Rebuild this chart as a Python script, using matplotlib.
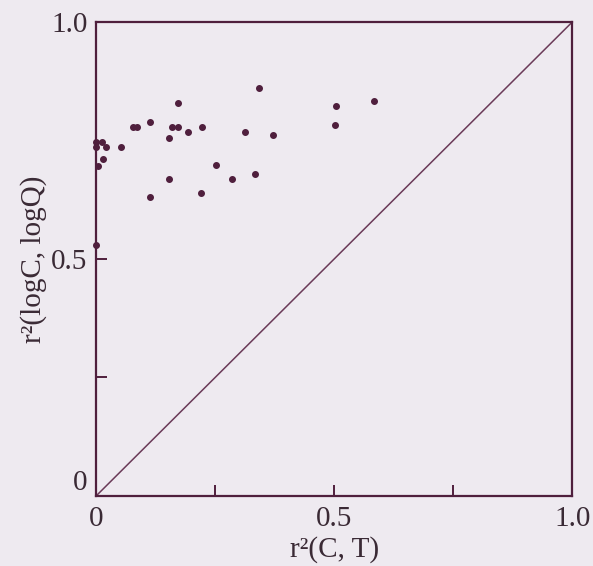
import numpy as np
import matplotlib.pyplot as plt

plt.rcParams['font.family'] = ['Liberation Serif', 'DejaVu Serif']

# r2(C, T) and r2(logC, logQ)
r2_ct = [0.342, 0.172, 0.078, 0.086, 0.113, 0.160, 0.172, 0.193, 0.223, 0.153,
         0.313, 0.372, 0.0, 0.021, 0.053, 0.015, 0.004, 0.252, 0.153, 0.286,
         0.334, 0.113, 0.221, 0.504, 0.584, 0.502, 0.0, 0.0, 0.012]
r2_log = [0.861, 0.829, 0.778, 0.778, 0.789, 0.778, 0.778, 0.768, 0.778, 0.755,
          0.768, 0.762, 0.736, 0.736, 0.736, 0.711, 0.696, 0.698, 0.669, 0.669,
          0.679, 0.631, 0.639, 0.823, 0.833, 0.783, 0.530, 0.747, 0.747]

bg = '#eeeaf0'
ink = '#4f1f3d'
txt = '#3a2a35'

fig = plt.figure(figsize=(5.93, 5.66), dpi=100, facecolor=bg)
ax = fig.add_axes([0.162, 0.1237, 0.803, 0.8374], facecolor=bg)

ax.plot([0, 1], [0, 1], color='#6a3a58', lw=1.1)
ax.scatter(r2_ct, r2_log, s=16, color=ink, zorder=3, clip_on=False)

ax.set_xlim(0, 1)
ax.set_ylim(0, 1)

for s in ax.spines.values():
    s.set_color(ink)
    s.set_linewidth(1.6)

ax.set_xticks([0, 0.25, 0.5, 0.75, 1.0])
ax.set_xticklabels(['0', '', '0.5', '', '1.0'])
ax.set_yticks([0, 0.25, 0.5, 1.0])
ax.set_yticklabels(['0', '', '0.5', '1.0'])
ax.tick_params(direction='in', length=8, width=1.4, color=ink,
               labelcolor=txt, labelsize=21)
ax.tick_params(axis='x', pad=7)
ax.tick_params(axis='y', pad=6)
ax.get_yticklabels()[0].set_va('bottom')

ax.set_xlabel('r²(C, T)', fontsize=21, color=txt, labelpad=3)
ax.set_ylabel('r²(logC, logQ)', fontsize=21, color=txt, labelpad=3)

fig.savefig('out.png', dpi=100, facecolor=bg)
